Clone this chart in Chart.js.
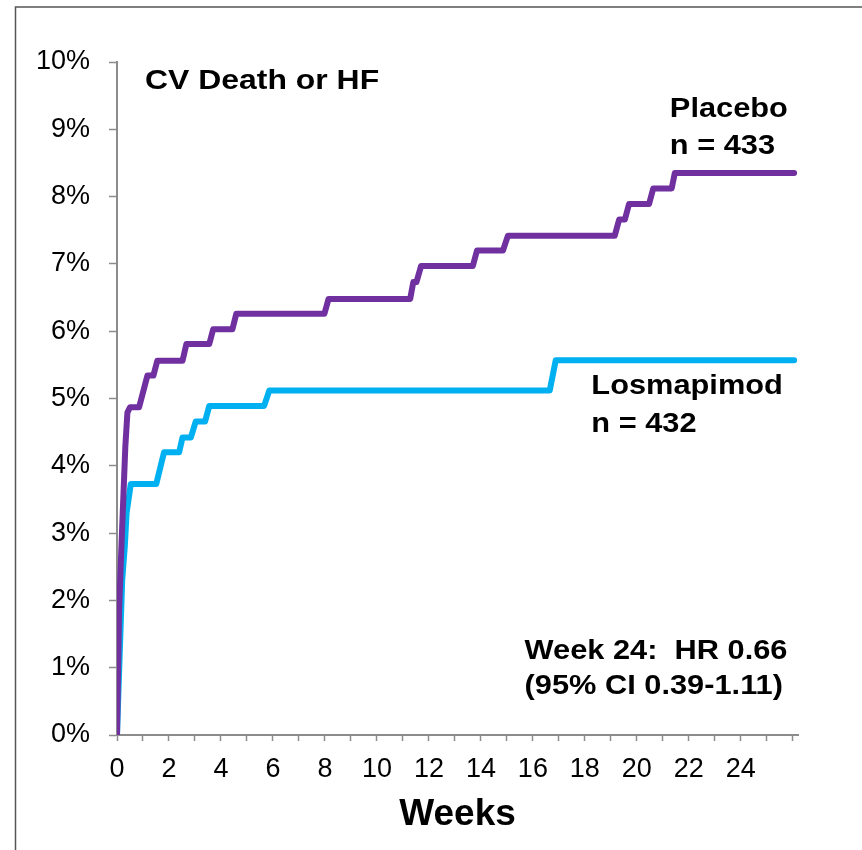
<!DOCTYPE html>
<html>
<head>
<meta charset="utf-8">
<script src="https://cdn.jsdelivr.net/npm/chart.js@4/dist/chart.umd.min.js"></script>
<style>
  html, body { margin: 0; padding: 0; background: #fff; }
  #wrap { position: relative; width: 862px; height: 850px; }
</style>
</head>
<body>
<div id="wrap"><canvas id="km" width="862" height="850"></canvas></div>
<script>
// Cumulative event rate (%) of CV death or heart failure, by week since randomisation
const placeboWeeks = [0, 0.08, 0.17, 0.32, 0.40, 0.50, 0.85, 1.17, 1.40, 1.55, 2.52, 2.67, 3.55, 3.70,
  4.44, 4.59, 7.98, 8.14, 11.28, 11.40, 11.52, 11.70, 13.69, 13.85, 14.85, 15.04,
  19.15, 19.32, 19.54, 19.70, 20.47, 20.63, 21.34, 21.46, 26.05];
const placeboRate = [0, 1.85, 2.8, 4.28, 4.79, 4.87, 4.87, 5.34, 5.34, 5.56, 5.56, 5.81, 5.81, 6.03,
  6.03, 6.26, 6.26, 6.48, 6.48, 6.73, 6.73, 6.97, 6.97, 7.2, 7.2, 7.42,
  7.42, 7.66, 7.66, 7.89, 7.89, 8.12, 8.12, 8.35, 8.35];

const losmapimodWeeks = [0, 0.20, 0.30, 0.37, 0.53, 1.51, 1.81, 2.39, 2.52, 2.84, 3.03, 3.39, 3.55,
  5.66, 5.86, 16.65, 16.88, 26.05];
const losmapimodRate = [0, 2.3, 2.8, 3.3, 3.73, 3.73, 4.2, 4.2, 4.42, 4.42, 4.66, 4.66, 4.89,
  4.89, 5.12, 5.12, 5.57, 5.57];

// Axis ticks
const weekTickValues = [0, 2, 4, 6, 8, 10, 12, 14, 16, 18, 20, 22, 24];
const weekTickLabels = ['0', '2', '4', '6', '8', '10', '12', '14', '16', '18', '20', '22', '24'];
const rateTickValues = [0, 1, 2, 3, 4, 5, 6, 7, 8, 9, 10];
const rateTickLabels = ['0%', '1%', '2%', '3%', '4%', '5%', '6%', '7%', '8%', '9%', '10%'];

const seriesNames = ['Placebo', 'Losmapimod'];

// Text notes placed in data units (week, %)
const notes = [
  { text: 'CV Death or HF', week: 1.08, rate: 9.6, size: 28 },
  { text: 'Placebo', week: 21.27, rate: 9.19, size: 27 },
  { text: 'n = 433', week: 21.27, rate: 8.63, size: 27 },
  { text: 'Losmapimod', week: 18.25, rate: 5.07, size: 27 },
  { text: 'n = 432', week: 18.25, rate: 4.50, size: 27 },
  { text: 'Week 24:  HR 0.66', week: 15.68, rate: 1.13, size: 27 },
  { text: '(95% CI 0.39-1.11)', week: 15.68, rate: 0.61, size: 27 }
];

const toPoints = (xs, ys) => xs.map((x, i) => ({ x: x, y: ys[i] }));

const AXIS_GREY = '#8c8c8c';
const FONT = '"Liberation Sans", Arial, sans-serif';
const NARROW_FONT = '"Liberation Sans Narrow", "Arial Narrow", "Liberation Sans", sans-serif';

const framePlugin = {
  id: 'frame',
  beforeDraw(chart) {
    const ctx = chart.ctx;
    ctx.save();
    ctx.fillStyle = '#ffffff';
    ctx.fillRect(0, 0, chart.width, chart.height);
    ctx.strokeStyle = '#555555';
    ctx.lineWidth = 1.5;
    ctx.beginPath();
    ctx.moveTo(15.5, chart.height + 2);
    ctx.lineTo(15.5, 7);
    ctx.lineTo(chart.width + 2, 7);
    ctx.stroke();
    ctx.restore();
  }
};

const notesPlugin = {
  id: 'notes',
  afterDatasetsDraw(chart) {
    const ctx = chart.ctx;
    const xs = chart.scales.x, ys = chart.scales.y;
    ctx.save();
    ctx.fillStyle = '#000000';
    ctx.textAlign = 'left';
    ctx.textBaseline = 'alphabetic';
    notes.forEach(n => {
      ctx.save();
      ctx.translate(xs.getPixelForValue(n.week), ys.getPixelForValue(n.rate));
      ctx.scale(1.14, 1);
      ctx.font = 'bold ' + n.size + 'px ' + FONT;
      ctx.fillText(n.text, 0, 0);
      ctx.restore();
    });
    ctx.restore();
  }
};

new Chart(document.getElementById('km'), {
  type: 'line',
  data: {
    datasets: [
      {
        label: seriesNames[0],
        data: toPoints(placeboWeeks, placeboRate),
        borderColor: '#7030a0',
        borderWidth: 6,
        borderCapStyle: 'round',
        borderJoinStyle: 'round',
        pointRadius: 0,
        fill: false,
        tension: 0
      },
      {
        label: seriesNames[1],
        data: toPoints(losmapimodWeeks, losmapimodRate),
        borderColor: '#00b0f0',
        borderWidth: 6,
        borderCapStyle: 'round',
        borderJoinStyle: 'round',
        pointRadius: 0,
        fill: false,
        tension: 0
      }
    ]
  },
  options: {
    responsive: false,
    devicePixelRatio: 1,
    animation: false,
    layout: { padding: { top: 62, right: 64, left: 0, bottom: 0 } },
    plugins: {
      legend: { display: false },
      tooltip: { enabled: false },
      title: { display: false }
    },
    scales: {
      x: {
        type: 'linear',
        min: 0,
        max: 26.2,
        afterFit(scale) { scale.height = 115; },
        border: { display: true, color: AXIS_GREY, width: 2 },
        grid: { drawOnChartArea: false, drawTicks: true, tickLength: 6, tickColor: AXIS_GREY, tickWidth: 1.5 },
        ticks: {
          stepSize: 1,
          includeBounds: false,
          autoSkip: false,
          maxRotation: 0,
          padding: 12,
          color: '#000000',
          font: { family: NARROW_FONT, size: 27 },
          callback(value) {
            const i = weekTickValues.indexOf(value);
            return i >= 0 ? weekTickLabels[i] : '';
          }
        },
        title: {
          display: true,
          text: 'Weeks',
          color: '#000000',
          font: { family: FONT, size: 37, weight: 'bold' },
          padding: { top: 0, bottom: 13 }
        }
      },
      y: {
        min: 0,
        max: 10,
        afterFit(scale) { scale.width = 117; },
        border: { display: true, color: AXIS_GREY, width: 2 },
        grid: { drawOnChartArea: false, drawTicks: true, tickLength: 8, tickColor: AXIS_GREY, tickWidth: 1.5 },
        ticks: {
          stepSize: 1,
          padding: 19,
          color: '#000000',
          font: { family: FONT, size: 27 },
          callback(value) {
            const i = rateTickValues.indexOf(value);
            return i >= 0 ? rateTickLabels[i] : '';
          }
        }
      }
    }
  },
  plugins: [framePlugin, notesPlugin]
});
</script>
</body>
</html>
